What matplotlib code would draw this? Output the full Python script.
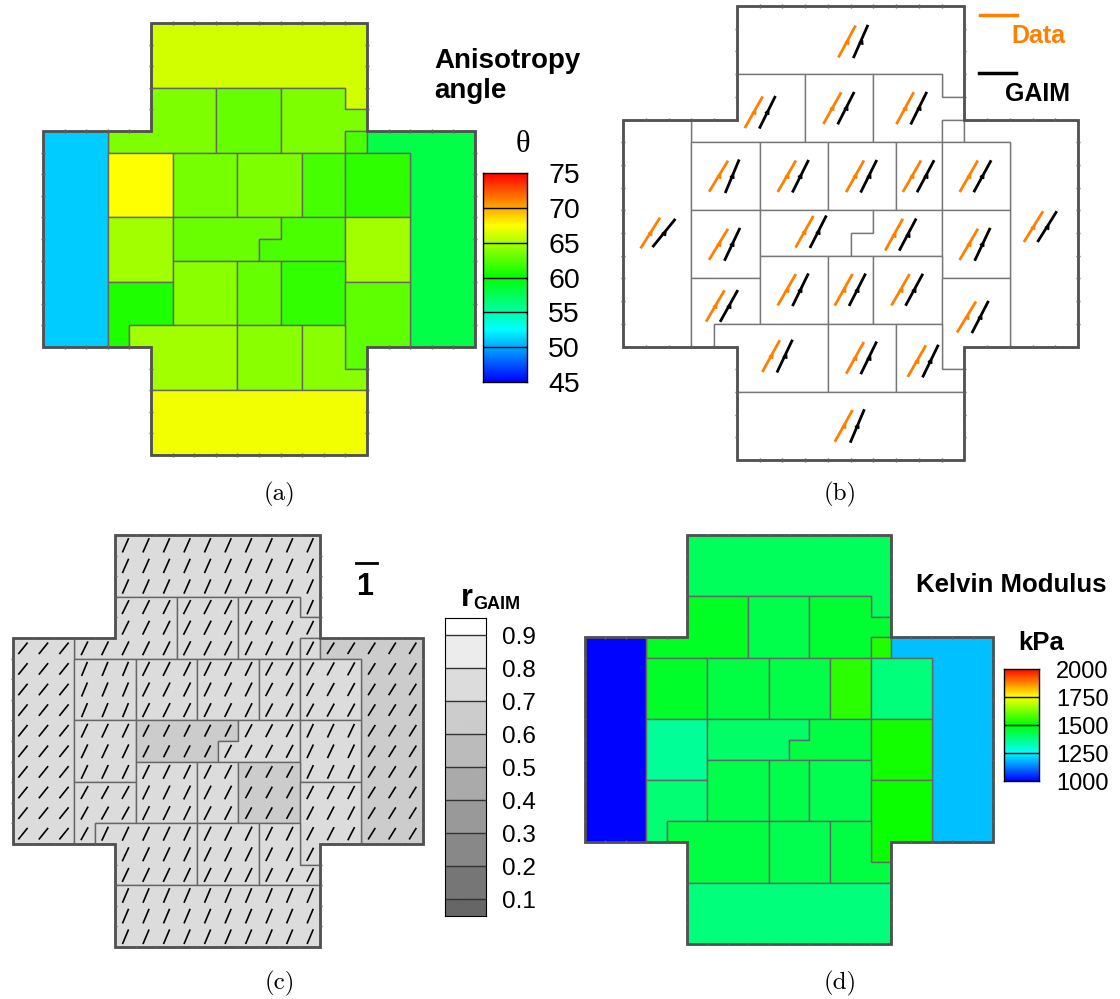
import numpy as np
import matplotlib.pyplot as plt
from matplotlib.patches import Polygon
from matplotlib.collections import LineCollection
from matplotlib.colors import LinearSegmentedColormap, ListedColormap, BoundaryNorm
from matplotlib.path import Path

plt.rcParams['font.family'] = ['Liberation Sans', 'DejaVu Sans']

W, H = 1120, 999

# ---- geometry of the specimen partition (grid units, y down) ----
region_names = ["top", "r2a", "r2b", "r2c", "r2d", "left", "right",
                "r3a", "r3b", "r3c", "r3d", "r3e",
                "r4a", "r4b", "r4c", "r4d",
                "r5a", "r5b", "r5c", "r5d", "r5e",
                "r6a", "r6b", "r6c", "bottom"]
region_shapes = [
    [(5, 0), (15, 0), (15, 4), (14, 4), (14, 3), (5, 3)],
    [(5, 3), (8, 3), (8, 6), (3, 6), (3, 5), (5, 5)],
    [(8, 3), (11, 3), (11, 6), (8, 6)],
    [(11, 3), (14, 3), (14, 4), (15, 4), (15, 5), (14, 5), (14, 6), (11, 6)],
    [(14, 5), (15, 5), (15, 6), (14, 6)],
    [(0, 5), (3, 5), (3, 15), (0, 15)],
    [(15, 5), (20, 5), (20, 15), (17, 15), (17, 6), (15, 6)],
    [(3, 6), (6, 6), (6, 9), (3, 9)],
    [(6, 6), (9, 6), (9, 9), (6, 9)],
    [(9, 6), (12, 6), (12, 9), (9, 9)],
    [(12, 6), (14, 6), (14, 9), (12, 9)],
    [(14, 6), (17, 6), (17, 9), (14, 9)],
    [(3, 9), (6, 9), (6, 12), (3, 12)],
    [(6, 9), (11, 9), (11, 10), (10, 10), (10, 11), (6, 11)],
    [(11, 9), (14, 9), (14, 11), (10, 11), (10, 10), (11, 10)],
    [(14, 9), (17, 9), (17, 12), (14, 12)],
    [(3, 12), (6, 12), (6, 14), (4, 14), (4, 15), (3, 15)],
    [(6, 11), (9, 11), (9, 14), (6, 14)],
    [(9, 11), (11, 11), (11, 14), (9, 14)],
    [(11, 11), (14, 11), (14, 14), (11, 14)],
    [(14, 12), (17, 12), (17, 15), (15, 15), (15, 16), (14, 16)],
    [(4, 14), (9, 14), (9, 17), (5, 17), (5, 15), (4, 15)],
    [(9, 14), (12, 14), (12, 17), (9, 17)],
    [(12, 14), (14, 14), (14, 16), (15, 16), (15, 17), (12, 17)],
    [(5, 17), (15, 17), (15, 20), (5, 20)],
]
outline = [(5, 0), (15, 0), (15, 5), (20, 5), (20, 15), (15, 15),
           (15, 20), (5, 20), (5, 15), (0, 15), (0, 5), (5, 5)]

# ---- values per region (same order as region_names) ----
theta_gaim = [66.2, 63.7, 63.0, 63.7, 62.2, 51.0, 58.0,
              67.4, 63.5, 63.7, 62.0, 61.4,
              64.7, 63.1, 62.2, 64.7,
              60.9, 64.0, 63.0, 61.5, 62.7,
              64.7, 64.0, 64.1, 67.1]
theta_data = [61.8, 60.5, 60.6, 61.5, None, 57.7, 58.2,
              58.7, 60.0, 60.6, 60.1, 60.1,
              58.7, 60.6, 61.0, 59.6,
              59.6, 60.0, 60.6, 60.0, 58.7,
              61.3, 60.9, 60.1, 60.9]
r_gaim = [0.76, 0.75, 0.77, 0.74, 0.73, 0.72, 0.66,
          0.74, 0.76, 0.75, 0.73, 0.72,
          0.74, 0.65, 0.71, 0.73,
          0.72, 0.75, 0.74, 0.64, 0.72,
          0.75, 0.76, 0.74, 0.77]
kelvin = [1412, 1467, 1427, 1453, 1531, 1005, 1188,
          1460, 1437, 1433, 1541, 1382,
          1355, 1400, 1437, 1516,
          1390, 1429, 1427, 1422, 1510,
          1437, 1422, 1437, 1380]

theta_ticks = [45, 50, 55, 60, 65, 70, 75]
kelvin_ticks = [1000, 1250, 1500, 1750, 2000]
r_levels = [0.05, 0.1, 0.2, 0.3, 0.4, 0.5, 0.6, 0.7, 0.8, 0.9, 0.95]
r_ticks = [0.9, 0.8, 0.7, 0.6, 0.5, 0.4, 0.3, 0.2, 0.1]

rainbow = LinearSegmentedColormap.from_list(
    "small_rainbow", ["#0000ff", "#00ffff", "#00ff00", "#ffff00", "#ff0000"])
grays = ListedColormap(["#666666", "#777777", "#888888", "#999999", "#aaaaaa",
                        "#bbbbbb", "#cccccc", "#dcdcdc", "#ececec", "#ffffff"])
gray_norm = BoundaryNorm(r_levels, grays.N)

fig = plt.figure(figsize=(W / 100, H / 100), dpi=100)


def box(x0, y0, x1, y1):
    return fig.add_axes([x0 / W, 1 - y1 / H, (x1 - x0) / W, (y1 - y0) / H])


def ftext(x, y, s, **kw):
    fig.text(x / W, 1 - y / H, s, **kw)


def domain_axes(x0, y0, x1, y1):
    ax = box(x0, y0, x1, y1)
    ax.set_xlim(0, 20)
    ax.set_ylim(20, 0)
    ax.axis('off')
    return ax


def centroid(pts):
    p = np.array(pts + pts[:1], dtype=float)
    x, y = p[:, 0], p[:, 1]
    cr = x[:-1] * y[1:] - x[1:] * y[:-1]
    a = cr.sum() / 2
    return (((x[:-1] + x[1:]) * cr).sum() / (6 * a),
            ((y[:-1] + y[1:]) * cr).sum() / (6 * a))


def draw_regions(ax, colors, edge='#666666'):
    for shp, c in zip(region_shapes, colors):
        ax.add_patch(Polygon(shp, closed=True, facecolor=c, edgecolor=edge,
                             lw=1.0, clip_on=False))
    ax.add_patch(Polygon(outline, closed=True, fill=False, edgecolor='#505050',
                         lw=2.0, clip_on=False, joinstyle='miter'))
    # small mesh ticks along the outer boundary
    segs = []
    for (xa, ya), (xb, yb) in zip(outline, outline[1:] + outline[:1]):
        n = int(round(abs(xb - xa) + abs(yb - ya)))
        for k in range(1, n):
            px, py = xa + (xb - xa) * k / n, ya + (yb - ya) * k / n
            if xa == xb:
                segs.append([(px - 0.07, py), (px + 0.07, py)])
            else:
                segs.append([(px, py - 0.07), (px, py + 0.07)])
    ax.add_collection(LineCollection(segs, colors='#606060', lw=1.0, clip_on=False))


def rainbow_bar(x0, y0, x1, y1, ticks, lab_x, fs, fmt):
    vmin, vmax = ticks[0], ticks[-1]
    cax = box(x0, y0, x1, y1)
    grad = np.linspace(vmin, vmax, 256)[:, None]
    cax.imshow(grad, cmap=rainbow, vmin=vmin, vmax=vmax, aspect='auto',
               origin='lower', extent=[0, 1, vmin, vmax])
    for lv in ticks[1:-1]:
        cax.axhline(lv, color='black', lw=1.0)
    cax.set_xticks([])
    cax.set_yticks([])
    for sp in cax.spines.values():
        sp.set_linewidth(1.0)
    for lv in ticks:
        yy = y1 - (lv - vmin) / (vmax - vmin) * (y1 - y0)
        ftext(lab_x, yy + 3, fmt.format(lv), fontsize=fs, ha='left', va='center')


# ================= (a) anisotropy angle =================
ax_a = domain_axes(43, 23, 475, 455)
draw_regions(ax_a, [rainbow((v - 45) / 30) for v in theta_gaim])
rainbow_bar(483, 173, 527, 382, theta_ticks, 548, 20.5, "{}")
ftext(523, 145, "θ", fontsize=22, family=['Liberation Serif', 'DejaVu Serif'],
      ha='center', va='center')
ftext(434, 68, "Anisotropy", fontsize=20, fontweight='bold', ha='left', va='baseline')
ftext(434, 98, "angle", fontsize=20, fontweight='bold', ha='left', va='baseline')

# ================= (b) principal directions =================
ax_b = domain_axes(623, 6, 1078, 460)
draw_regions(ax_b, ['white'] * len(region_shapes), edge='#777777')
half_len, off = 0.8, 0.3
for shp, tg, td in zip(region_shapes, theta_gaim, theta_data):
    if td is None:
        continue
    cx, cy = centroid(shp)
    for dx, ang, col in [(-off, td, '#ff8000'), (off, tg, 'black')]:
        a = np.radians(ang)
        ux, uy = np.cos(a) * half_len, np.sin(a) * half_len
        ax_b.plot([cx + dx - ux, cx + dx + ux], [cy + uy, cy - uy], color=col,
                  lw=2.0, solid_capstyle='butt', clip_on=False)
        ax_b.plot(cx + dx, cy, marker=(3, 0, ang - 90), color=col, ms=3.5,
                  clip_on=False)
fig.add_artist(plt.Line2D([980 / W, 1017 / W], [1 - 15 / H, 1 - 15 / H],
                          color='#ff8000', lw=2.5))
ftext(1011, 43, "Data", fontsize=18, fontweight='bold', color='#ff8000',
      ha='left', va='baseline')
fig.add_artist(plt.Line2D([979 / W, 1016 / W], [1 - 73 / H, 1 - 73 / H],
                          color='black', lw=2.5))
ftext(1005, 101, "GAIM", fontsize=18, fontweight='bold', ha='left', va='baseline')

# ================= (c) anisotropy ratio =================
ax_c = domain_axes(12.7, 535, 423, 947)
draw_regions(ax_c, [grays(gray_norm(v)) for v in r_gaim])
paths = [Path(s + s[:1], closed=True) for s in region_shapes]
glyphs = []
for i in range(20):
    for j in range(20):
        cx, cy = i + 0.5, j + 0.5
        for p, tg, rv in zip(paths, theta_gaim, r_gaim):
            if p.contains_point((cx, cy)):
                a = np.radians(tg)
                ux, uy = np.cos(a) * rv / 2, np.sin(a) * rv / 2
                glyphs.append([(cx - ux, cy + uy), (cx + ux, cy - uy)])
                break
ax_c.add_collection(LineCollection(glyphs, colors='black', lw=1.2))
ax_c.plot([16.75, 17.75], [1.35, 1.35], color='black', lw=2.0, clip_on=False)
ftext(365, 595, "1", fontsize=22, fontweight='bold', ha='center', va='baseline')

cax_c = box(445, 618, 486, 916)
cax_c.imshow(np.linspace(0.05, 0.95, 400)[:, None], cmap=grays, norm=gray_norm,
             aspect='auto', origin='lower', extent=[0, 1, 0.05, 0.95])
for lv in r_levels[1:-1]:
    cax_c.axhline(lv, color='#333333', lw=1.0)
cax_c.set_xticks([])
cax_c.set_yticks([])
for lv in r_ticks:
    yy = 916 - (lv - 0.05) / 0.9 * (916 - 618)
    ftext(502, yy + 3, "{:.1f}".format(lv), fontsize=17.5, ha='left', va='center')
ftext(461, 606, "r", fontsize=22, fontweight='bold', ha='left', va='baseline')
ftext(473, 609, "GAIM", fontsize=13, fontweight='bold', ha='left', va='baseline')

# ================= (d) Kelvin modulus =================
ax_d = domain_axes(585, 535, 993, 944)
draw_regions(ax_d, [rainbow((v - 1000) / 1000) for v in kelvin])
rainbow_bar(1004, 669, 1039, 781, kelvin_ticks, 1056, 17, "{}")
ftext(916, 592, "Kelvin Modulus", fontsize=18.5, fontweight='bold', ha='left',
      va='baseline')
ftext(1018, 650, "kPa", fontsize=18.5, fontweight='bold', ha='left', va='baseline')

# ---- sub-figure captions ----
for x, y, s in [(280, 494, "(a)"), (840, 494, "(b)"), (280, 983, "(c)"), (840, 983, "(d)")]:
    ftext(x, y, s, fontsize=18, family='cmr10', ha='center', va='center')

fig.savefig("out.png", dpi=100)
